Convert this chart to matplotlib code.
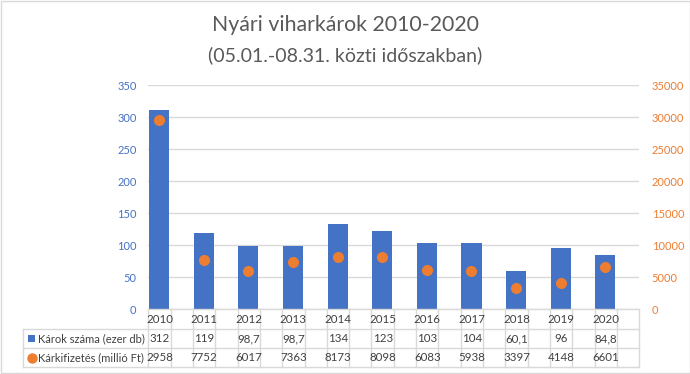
import matplotlib
matplotlib.use("Agg")
import matplotlib.pyplot as plt
from matplotlib.lines import Line2D
from matplotlib.patches import Rectangle
import matplotlib.transforms as mtransforms

plt.rcParams['font.family'] = ['Lato', 'DejaVu Sans']

years = ['2010', '2011', '2012', '2013', '2014', '2015', '2016', '2017', '2018', '2019', '2020']
karok_szama = [312, 119, 98.7, 98.7, 134, 123, 103, 104, 60.1, 96, 84.8]
karkifizetes = [29580, 7752, 6017, 7363, 8173, 8098, 6083, 5938, 3397, 4148, 6601]
karok_labels = ['312', '119', '98,7', '98,7', '134', '123', '103', '104', '60,1', '96', '84,8']
kifiz_labels = ['2958', '7752', '6017', '7363', '8173', '8098', '6083', '5938', '3397', '4148', '6601']
series_names = ['Károk száma (ezer db)', 'Kárkifizetés (millió Ft)']
title = 'Nyári viharkárok 2010-2020'
subtitle = '(05.01.-08.31. közti időszakban)'

BLUE = '#4472C4'
ORANGE = '#ED7D31'
GRID = '#D9D9D9'
TXT = '#404040'

W, H = 690, 374
fig = plt.figure(figsize=(W / 100, H / 100), dpi=100)

def fx(px):
    return px / W

def fy(py):
    return 1 - py / H

ax_left, ax_right, ax_top, ax_bot = 148.3, 639.3, 85.3, 309.3
ax = fig.add_axes([fx(ax_left), fy(ax_bot), fx(ax_right - ax_left), (ax_bot - ax_top) / H])
ax2 = ax.twinx()

n = len(years)
xs = [i + 0.24 for i in range(n)]
ax.bar(xs, karok_szama, width=0.45, color=BLUE, zorder=3)
ax2.scatter(xs, karkifizetes, s=64, color=ORANGE, zorder=4, linewidths=0)

ax.set_xlim(0, n)
ax.set_ylim(0, 350)
ax2.set_ylim(0, 35000)
ax.set_yticks(range(0, 351, 50))
ax2.set_yticks(range(0, 35001, 5000))
ax.set_xticks([])
ax.yaxis.grid(True, color=GRID, linewidth=1)
ax.set_axisbelow(True)
for a in (ax, ax2):
    for s in a.spines.values():
        s.set_visible(False)
ax.tick_params(axis='y', length=0, pad=8.5, labelsize=8, labelcolor=BLUE)
ax2.tick_params(axis='y', length=0, pad=9, labelsize=8, labelcolor=ORANGE)
ax.set_zorder(ax2.get_zorder() - 1)
ax2.patch.set_visible(False)
ax.patch.set_visible(False)

# titles
fig.text(fx(345), fy(25), title, ha='center', va='center', fontsize=15.3, color='#595959')
fig.text(fx(345), fy(55), subtitle, ha='center', va='center', fontsize=14.0, color='#595959')

# data table
trans = mtransforms.blended_transform_factory(ax.transData, fig.transFigure)
row_tops = [309.3, 329.3, 348.3, 367.0]
tbl_left = 23.3
line_kw = dict(color=GRID, linewidth=1)
for i, yy in enumerate(row_tops):
    x0 = ax_left if i == 0 else tbl_left
    fig.add_artist(Line2D([fx(x0), fx(ax_right)], [fy(yy), fy(yy)], transform=fig.transFigure, **line_kw))
for k in range(n + 1):
    for off in (0.0, 0.5):
        xv = k + off
        if xv > n:
            continue
        fig.add_artist(Line2D([xv, xv], [fy(row_tops[0]), fy(row_tops[-1])], transform=trans, **line_kw))
fig.add_artist(Line2D([fx(tbl_left), fx(tbl_left)], [fy(row_tops[1]), fy(row_tops[-1])], transform=fig.transFigure, **line_kw))

row_centers = [(row_tops[i] + row_tops[i + 1]) / 2 for i in range(3)]
for i in range(n):
    cx = i + 0.25
    fig.text(cx, fy(row_centers[0]), years[i], transform=trans, ha='center', va='center', fontsize=8.3, color=TXT)
    fig.text(cx, fy(row_centers[1]), karok_labels[i], transform=trans, ha='center', va='center', fontsize=8.3, color=TXT)
    fig.text(cx, fy(row_centers[2]), kifiz_labels[i], transform=trans, ha='center', va='center', fontsize=8.3, color=TXT)

# legend keys
fig.add_artist(Rectangle((fx(28), fy(row_centers[1] + 3.5)), fx(7), 7 / H, transform=fig.transFigure,
                         facecolor=BLUE, edgecolor='none'))
fig.add_artist(Line2D([fx(31.7)], [fy(row_centers[2])], transform=fig.transFigure, marker='o',
                      markersize=7.5, color=ORANGE, markeredgewidth=0, linestyle='none'))
fig.text(fx(37.5), fy(row_centers[1]), series_names[0], ha='left', va='center', fontsize=8, color=TXT)
fig.text(fx(37.5), fy(row_centers[2]), series_names[1], ha='left', va='center', fontsize=8, color=TXT)

# chart border
fig.add_artist(Rectangle((fx(0.5), fy(373)), fx(689), 372.5 / H, transform=fig.transFigure,
                         facecolor='none', edgecolor=GRID, linewidth=1))

fig.savefig('out.png', dpi=100, facecolor='white')
